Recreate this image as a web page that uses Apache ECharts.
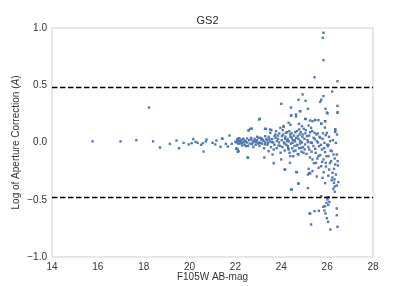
<!DOCTYPE html>
<html>
<head>
<meta charset="utf-8">
<script src="https://cdn.jsdelivr.net/npm/echarts@6/dist/echarts.min.js"></script>
<style>html,body{margin:0;padding:0;background:#fff}#c{width:415px;height:286px}</style>
</head>
<body>
<div id="c"></div>
<script>
var xTicks = [14, 16, 18, 20, 22, 24, 26, 28];
var yTicks = [-1.0, -0.5, 0.0, 0.5, 1.0];
var thresholds = [0.477, -0.477];

var brightPoints = [
[15.77,0.01],[16.99,0.01],[17.68,0.02],[18.23,0.306],[18.41,0.01],[18.71,-0.044],[19.14,-0.012],
[19.43,0.017],[19.54,-0.05],[19.74,-0.003],[19.96,-0.017],[20.09,-0.006],[20.16,0.03],[20.26,0.006],
[20.35,-0.003],[20.5,-0.02],[20.58,-0.006],[20.61,-0.079],[20.71,0.009],[20.74,0.026],[21.0,-0.003],
[21.12,-0.017],[21.17,0.017],[21.35,-0.038],[21.42,0.035],[21.43,0.032],[21.58,-0.012],[21.67,-0.035],
[21.74,0.061],[21.84,-0.012],[22.0,0.006],[22.03,-0.052],[22.1,0.026],[22.1,-0.082],[22.13,0.035],
[22.1,-0.06]
];

var corePoints = [
[22.07,0.026],[22.14,0.012],[22.22,-0.003],[22.12,-0.009],[22.26,0.02],[22.32,0.032],[22.17,0.038],
[22.04,-0.055],[22.14,-0.076],[22.29,-0.026],[22.36,0.003],[22.41,0.015],[22.46,-0.032],[22.51,0.035],
[22.58,0.108],[22.65,0.119],[22.7,0.026],[22.72,-0.015],[22.55,-0.134],[22.8,0.012],[22.84,0.032],
[22.9,0.003],[22.94,0.02],[23.01,0.041],[23.04,0.2],[23.09,-0.003],[23.13,0.026],[23.16,0.032],
[23.23,0.012],[23.28,-0.017],[23.3,0.055],[23.33,0.119],[23.38,0.02],[23.42,-0.003],[23.45,-0.076],
[23.48,0.032],[23.52,0.084],[23.57,0.108],[23.59,0.003],[23.62,-0.105],[23.67,-0.061],[23.71,0.055],
[23.74,0.07],[23.77,0.099],[23.81,0.012],[23.86,0.032],[23.88,-0.026],[23.91,0.079],[23.96,0.128],
[23.97,-0.09],[24.0,-0.148],[24.03,0.055],[24.06,0.108],[24.1,0.143],[24.14,-0.009],[24.17,0.032],
[24.17,-0.236],[24.2,0.084],[24.25,0.012],[24.29,-0.032],[24.32,0.172],[24.32,-0.061],[24.35,0.099],
[24.39,0.07],[24.39,-0.119],[24.43,0.236],[24.46,0.041],[24.49,-0.003],[24.54,-0.076],[24.58,0.02],
[24.61,0.09],[24.64,0.245],[24.65,-0.259],[24.68,-0.026],[24.72,0.055],[24.75,-0.105],[24.75,-0.358],
[24.78,0.114],[24.83,0.274],[24.83,0.012],[24.87,-0.047],[24.9,0.143],[24.93,0.07],[24.97,-0.09],
[25.01,0.032],[25.04,0.207],[25.04,-0.017],[25.07,0.108],[25.12,0.055],[25.16,0.003],[25.19,0.148],
[25.19,-0.23],[25.22,-0.061],[25.26,0.09],[25.26,-0.271],[25.3,0.128],[25.33,-0.003],[25.36,0.186],
[25.36,-0.148],[25.41,0.041],[25.45,0.084],[25.48,0.195],[25.48,-0.055],[25.51,-0.178],[25.55,0.012],
[25.59,0.079],[25.62,-0.119],[25.65,-0.032],[25.7,0.041],[25.74,0.166],[25.74,-0.207],[25.77,-0.061],
[25.8,0.032],[25.8,-0.309],[25.84,-0.148],[25.88,-0.003],[25.91,0.186],[25.91,-0.084],[25.94,-0.178],
[25.99,0.084],[25.99,0.262],[26.03,-0.032],[26.06,-0.119],[26.09,-0.236],[26.13,0.012],[26.17,-0.163],
[26.2,-0.076],[26.23,-0.265],[26.28,-0.105],[26.32,-0.323],[26.35,0.114],[26.35,-0.192],[26.38,-0.003],
[26.42,-0.105],[26.46,0.265],[26.46,-0.163],[26.49,-0.346],[26.42,-0.376]
];

var densePoints = [
[22.05,0.0],[22.1,0.02],[22.18,-0.01],[22.22,0.015],[22.3,-0.005],[22.35,0.03],[22.4,-0.02],[22.45,0.01],
[22.5,0.0],[22.55,-0.03],[22.6,0.02],[22.62,-0.01],[22.68,0.04],[22.75,0.0],[22.78,-0.04],[22.85,0.01],
[22.88,-0.02],[22.95,0.05],[22.98,-0.01],
[23.02,0.0],[23.05,-0.03],[23.1,0.04],[23.15,-0.01],[23.2,0.02],[23.25,-0.05],[23.3,0.0],[23.35,0.03],
[23.4,-0.02],[23.45,0.05],[23.5,0.01],[23.55,-0.04],[23.6,0.03],[23.65,0.0],[23.7,-0.02],[23.75,0.04],
[23.8,-0.05],[23.85,0.06],[23.9,0.0],[23.95,-0.03],
[24.02,0.02],[24.05,-0.04],[24.08,0.07],[24.12,0.0],[24.15,-0.07],[24.18,0.05],[24.22,-0.02],[24.25,0.09],
[24.28,0.03],[24.3,-0.05],[24.33,0.01],[24.36,-0.09],[24.4,0.05],[24.42,-0.01],[24.45,0.08],[24.48,-0.05],
[24.5,0.02],[24.52,-0.12],[24.55,0.06],[24.58,-0.03],[24.6,0.01],[24.62,-0.07],[24.65,0.04],[24.68,0.1],
[24.7,-0.02],[24.72,-0.1],[24.75,0.03],[24.78,-0.05],[24.8,0.07],[24.82,-0.01],[24.85,0.09],[24.88,-0.08],
[24.9,0.0],[24.92,0.05],[24.95,-0.04],[24.98,0.12],
[25.02,-0.06],[25.05,0.08],[25.1,-0.1],[25.14,0.02],[25.18,-0.04],[25.22,0.06],[25.25,-0.13],[25.28,0.0],
[25.32,-0.08],[25.35,0.1],[25.4,-0.03],[25.42,-0.18],[25.46,0.03],[25.5,-0.09],[25.53,0.07],[25.57,-0.14],
[25.6,0.0],[25.63,-0.22],[25.67,0.05],[25.7,-0.11],[25.73,-0.02],[25.78,-0.17],[25.82,0.08],[25.85,-0.26],
[25.87,-0.05],[25.9,0.13],[25.95,-0.21],[25.97,-0.12],[26.0,-0.02],[26.05,-0.29],[26.08,0.05],[26.12,-0.18],
[26.15,-0.07],[26.2,-0.33],[26.25,0.02],[26.3,-0.23],[26.33,-0.14],[26.38,-0.28],[26.43,0.07],[26.47,-0.2]
];

var upperTail = [
[25.84,0.958],[25.81,0.914],[25.84,0.719],[25.45,0.57],[26.45,0.535],[26.22,0.445],[25.84,0.405],
[25.74,0.373],[25.7,0.355],[24.93,0.42],[24.75,0.373],[25.06,0.364],[24.0,0.338],[24.42,0.306],
[25.16,0.294],[24.81,0.273],[25.93,0.294],[26.02,0.253],[26.45,0.32],[26.45,0.259],[24.43,0.238],
[24.64,0.227],[23.06,0.207],[25.07,0.204],[25.25,0.192],[25.47,0.198],[25.62,0.195],[25.91,0.186],
[25.75,0.163],[24.4,0.155],[24.77,0.163],[24.1,0.137],[22.71,0.122],[22.57,0.105],[23.29,0.12],
[23.51,0.114],[26.35,0.114],[26.35,0.093],[25.94,0.064],[26.06,-0.02],[26.35,0.1]
];

var lowerTail = [
[22.53,-0.131],[23.26,-0.131],[23.67,-0.18],[24.14,-0.236],[24.68,-0.259],[24.38,-0.178],[24.74,-0.358],
[24.45,-0.413],[25.16,-0.399],[25.22,-0.265],[25.16,-0.28],[25.36,-0.25],[25.55,-0.297],[25.91,-0.355],
[26.23,-0.306],[26.3,-0.352],[26.33,-0.384],[26.27,-0.405],[26.33,-0.43],[25.74,-0.469],[25.97,-0.48],
[26.07,-0.478],[26.02,-0.498],[25.97,-0.527],[25.91,-0.556],[25.83,-0.562],[26.42,-0.576],[25.45,-0.6],
[25.64,-0.597],[25.26,-0.62],[25.88,-0.594],[25.93,-0.62],[26.42,-0.635],[25.99,-0.661],[26.04,-0.693],
[25.3,-0.716],[26.14,-0.76],[26.45,-0.736],[24.43,-0.41],[25.23,-0.62],[26.05,-0.545],[26.1,-0.52]
];

var allPoints = brightPoints.concat(corePoints, densePoints, upperTail, lowerTail);

var FONT = 'Liberation Sans';
var chart = echarts.init(document.getElementById('c'), null, {renderer: 'canvas'});
chart.setOption({
  animation: false,
  backgroundColor: '#ffffff',
  title: {
    text: 'GS2', left: 'center', top: 10,
    textStyle: {fontFamily: FONT, fontSize: 11, fontWeight: 'normal', color: '#262626'}
  },
  grid: {left: 52, right: 42, top: 28, bottom: 29, show: true, borderColor: '#cfcfcf', borderWidth: 1, backgroundColor: '#ffffff', containLabel: false, outerBoundsMode: 'none'},
  xAxis: {
    type: 'value', min: xTicks[0], max: xTicks[xTicks.length - 1], interval: 2,
    name: 'F105W AB-mag', nameLocation: 'middle', nameGap: 15, nameMoveOverlap: false,
    nameTextStyle: {fontFamily: FONT, fontSize: 10, color: '#333333'},
    axisLine: {show: false}, axisTick: {show: false}, splitLine: {show: false},
    axisLabel: {fontFamily: FONT, fontSize: 10, color: '#333333', margin: 5}
  },
  yAxis: {
    type: 'value', min: yTicks[0], max: yTicks[yTicks.length - 1], interval: 0.5,
    name: '{n|Log of Aperture Correction (}{i|A}{n|)}', nameLocation: 'middle', nameGap: 31, nameRotate: 90, nameMoveOverlap: false,
    nameTextStyle: {
      fontFamily: FONT, fontSize: 10, color: '#333333',
      rich: {n: {fontFamily: FONT, fontSize: 10, color: '#333333'}, i: {fontFamily: FONT, fontSize: 10, fontStyle: 'italic', color: '#333333'}}
    },
    axisLine: {show: false}, axisTick: {show: false}, splitLine: {show: false},
    axisLabel: {
      fontFamily: FONT, fontSize: 10, color: '#333333', margin: 5,
      formatter: function (v) { var s = Math.abs(v).toFixed(1); return v < 0 ? '\u2212' + s : s; }
    }
  },
  series: [{
    type: 'scatter',
    data: allPoints,
    symbol: 'rect',
    symbolSize: 2.4,
    itemStyle: {color: '#4c72b0', opacity: 0.95},
    silent: true,
    markLine: {
      silent: true, symbol: 'none', label: {show: false},
      lineStyle: {color: '#000000', type: [5.5, 2.5], width: 1.4},
      data: thresholds.map(function (t) { return {yAxis: t}; })
    }
  }]
});
</script>
</body>
</html>
